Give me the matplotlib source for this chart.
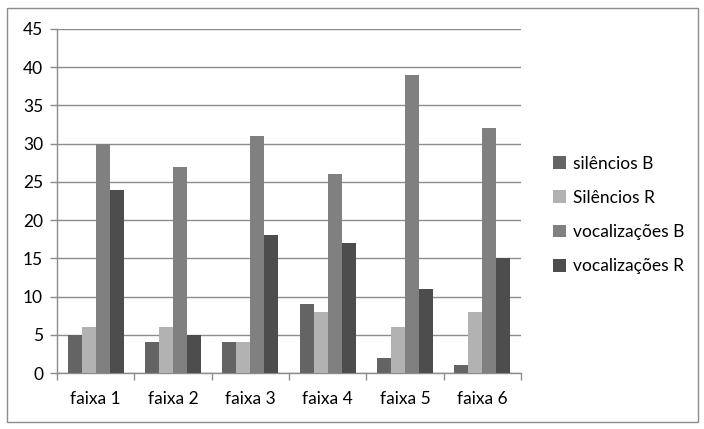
import numpy as np
import matplotlib.pyplot as plt
from matplotlib.patches import Rectangle

categories = ['faixa 1', 'faixa 2', 'faixa 3', 'faixa 4', 'faixa 5', 'faixa 6']
series_names = ['silêncios B', 'Silêncios R', 'vocalizações B', 'vocalizações R']
silencios_b = [5, 4, 4, 9, 2, 1]
silencios_r = [6, 6, 4, 8, 6, 8]
vocalizacoes_b = [30, 27, 31, 26, 39, 32]
vocalizacoes_r = [24, 5, 18, 17, 11, 15]
colors = ['#646464', '#b2b2b2', '#808080', '#4d4d4d']

plt.rcParams['font.family'] = ['Lato', 'DejaVu Sans']

W, H = 704, 429
fig = plt.figure(figsize=(W / 100, H / 100), dpi=100)
fig.patches.append(Rectangle((7 / W, 7 / H), 691 / W, 414 / H, transform=fig.transFigure,
                             fill=False, edgecolor='#8c8c8c', lw=1))

ax = fig.add_axes([57 / W, (H - 373) / H, (521 - 57) / W, (373 - 29) / H])

data = [silencios_b, silencios_r, vocalizacoes_b, vocalizacoes_r]
x = np.arange(len(categories))
bw = 1 / 5.5
for i, (vals, name) in enumerate(zip(data, series_names)):
    ax.bar(x + (i - 1.5) * bw, vals, width=bw, color=colors[i], label=name, zorder=3)

ax.set_xlim(-0.5, len(categories) - 0.5)
ax.set_ylim(0, 45)
ax.set_yticks(range(0, 46, 5))
ax.yaxis.grid(True, color='#8c8c8c', lw=1, zorder=0)
ax.set_xticks(x)
ax.set_xticklabels(categories)
ax.set_xticks(np.arange(-0.5, len(categories)), minor=True)
ax.tick_params(axis='x', which='major', length=0, labelsize=12.5, pad=13, colors='black')
ax.tick_params(axis='x', which='minor', length=5, color='#8c8c8c', width=1)
ax.tick_params(axis='y', length=5, color='#8c8c8c', width=1, labelsize=12.5, pad=5)
for s in ['top', 'right']:
    ax.spines[s].set_visible(False)
for s in ['left', 'bottom']:
    ax.spines[s].set_color('#8c8c8c')
    ax.spines[s].set_linewidth(1)

ax.legend(loc='center left', bbox_to_anchor=(537 / W, (H - 215) / H), bbox_transform=fig.transFigure,
          frameon=False, fontsize=12.5, handlelength=0.75, handleheight=0.75, handletextpad=0.4,
          labelspacing=1.05)

fig.savefig('out.png', dpi=100)
